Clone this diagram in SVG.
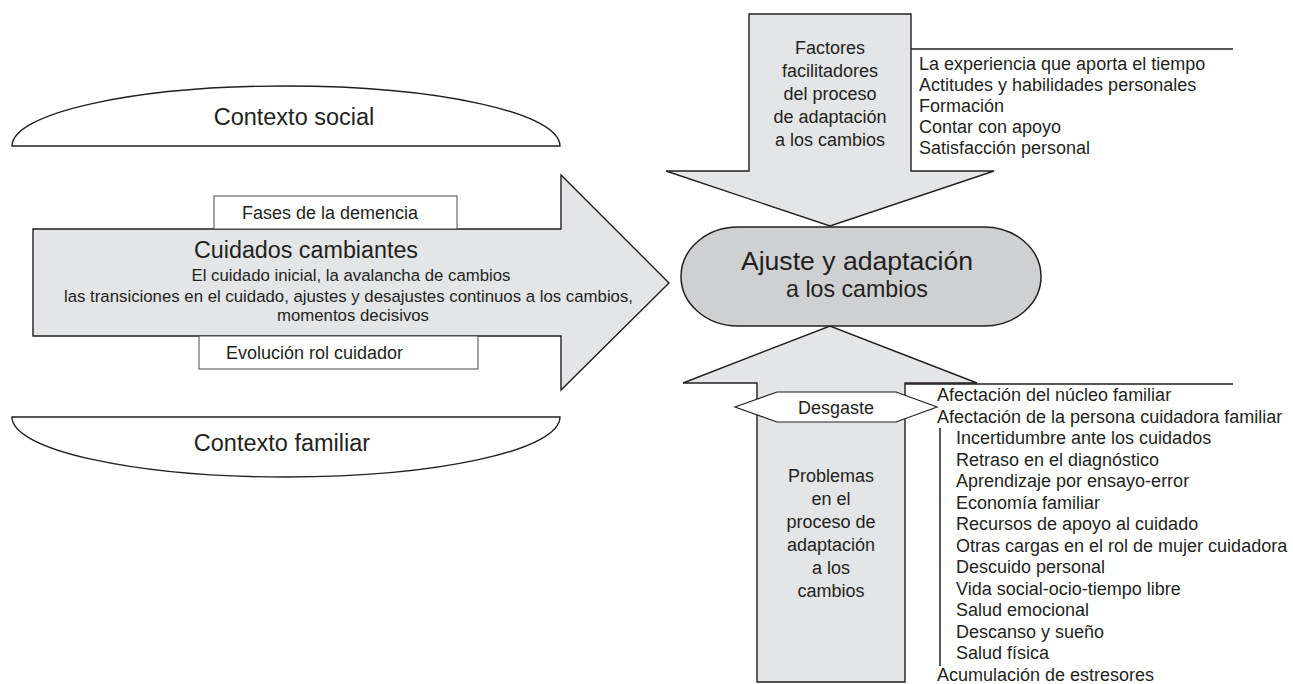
<svg xmlns="http://www.w3.org/2000/svg" width="1293" height="684" viewBox="0 0 1293 684">
<style>
text{font-family:"Liberation Sans",Arial,Helvetica,sans-serif;fill:#231f20}
.ctx{fill:#fff;stroke:#231f20;stroke-width:1.4}
.arr{fill:#e4e5e7;stroke:#231f20;stroke-width:1.4;stroke-linejoin:miter}
.box{fill:#fff;stroke:#4a4a4a;stroke-width:1}
.oval{fill:#cfd0d2;stroke:#231f20;stroke-width:1.5}
.hex{fill:#fff;stroke:#231f20;stroke-width:1.2}
.ln{stroke:#231f20;stroke-width:1.5;fill:none}
.t18{font-size:18px}
.t17{font-size:16.8px}
.big{font-size:23.5px}
.m{text-anchor:middle}
</style>
<rect width="1293" height="684" fill="#fff"/>
<g id="contexto-social">
<path class="ctx" d="M12,146 A274,60 0 0 1 560,146 Z"/>
<text class="big m" x="294" y="125">Contexto social</text>
</g>
<g id="contexto-familiar">
<path class="ctx" d="M12,417 A274,60 0 0 0 560,417 Z"/>
<text class="big m" x="282" y="451">Contexto familiar</text>
</g>
<g id="cuidados-cambiantes">
<path class="arr" d="M33,229 H561 V175 L669,283 L561,390 V336 H33 Z"/>
<text class="m" x="306" y="258" style="font-size:23.3px">Cuidados cambiantes</text>
<text class="t17 m" x="351" y="281">El cuidado inicial, la avalancha de cambios</text>
<text class="t17 m" x="348.5" y="302">las transiciones en el cuidado, ajustes y desajustes continuos a los cambios,</text>
<text class="t17 m" x="353" y="321">momentos decisivos</text>
</g>
<g id="fases">
<rect class="box" x="214" y="196" width="243" height="33"/>
<text class="t18" x="242" y="219">Fases de la demencia</text>
</g>
<g id="evolucion">
<rect class="box" x="199" y="336" width="279" height="33"/>
<text class="t18" x="226" y="359">Evolución rol cuidador</text>
</g>
<g id="factores">
<path class="arr" d="M749,14 H911 V171 H994 L830,226 L666,171 H749 Z"/>
<text class="t18 m" x="830" y="54">Factores</text>
<text class="t18 m" x="830" y="77">facilitadores</text>
<text class="t18 m" x="830" y="100">del proceso</text>
<text class="t18 m" x="830" y="123">de adaptación</text>
<text class="t18 m" x="830" y="146">a los cambios</text>
</g>
<g id="problemas">
<path class="arr" d="M757,682 V383 H683 L830,326 L977,383 H905 V682 Z"/>
<text class="t18 m" x="831" y="482">Problemas</text>
<text class="t18 m" x="831" y="505">en el</text>
<text class="t18 m" x="831" y="528">proceso de</text>
<text class="t18 m" x="831" y="551">adaptación</text>
<text class="t18 m" x="831" y="574">a los</text>
<text class="t18 m" x="831" y="597">cambios</text>
</g>
<g id="ajuste">
<rect class="oval" x="681" y="227" width="360" height="99" rx="57" ry="49.5"/>
<text class="m" x="857" y="270" style="font-size:26.6px">Ajuste y adaptación</text>
<text class="m" x="857" y="297" style="font-size:23.2px">a los cambios</text>
</g>
<g id="desgaste">
<polygon class="hex" points="735,407 777,392 896,392 937,407 896,422 777,422"/>
<text class="t18 m" x="836" y="414">Desgaste</text>
</g>
<g id="connectors">
<line class="ln" x1="911" y1="49" x2="1233" y2="49"/>
<line class="ln" x1="905" y1="384" x2="1233" y2="384"/>
<line class="ln" x1="940" y1="428" x2="940" y2="666"/>
</g>
<g id="factores-lista" class="t18">
<text x="919" y="70">La experiencia que aporta el tiempo</text>
<text x="919" y="91">Actitudes y habilidades personales</text>
<text x="919" y="112">Formación</text>
<text x="919" y="133">Contar con apoyo</text>
<text x="919" y="154">Satisfacción personal</text>
</g>
<g id="problemas-lista" class="t18">
<text x="937" y="401">Afectación del núcleo familiar</text>
<text x="937" y="422.5">Afectación de la persona cuidadora familiar</text>
<text x="956" y="444">Incertidumbre ante los cuidados</text>
<text x="956" y="465.5">Retraso en el diagnóstico</text>
<text x="956" y="487">Aprendizaje por ensayo-error</text>
<text x="956" y="508.5">Economía familiar</text>
<text x="956" y="530">Recursos de apoyo al cuidado</text>
<text x="956" y="551.5">Otras cargas en el rol de mujer cuidadora</text>
<text x="956" y="573">Descuido personal</text>
<text x="956" y="594.5">Vida social-ocio-tiempo libre</text>
<text x="956" y="616">Salud emocional</text>
<text x="956" y="637.5">Descanso y sueño</text>
<text x="956" y="659">Salud física</text>
<text x="937" y="680.5">Acumulación de estresores</text>
</g>
</svg>
